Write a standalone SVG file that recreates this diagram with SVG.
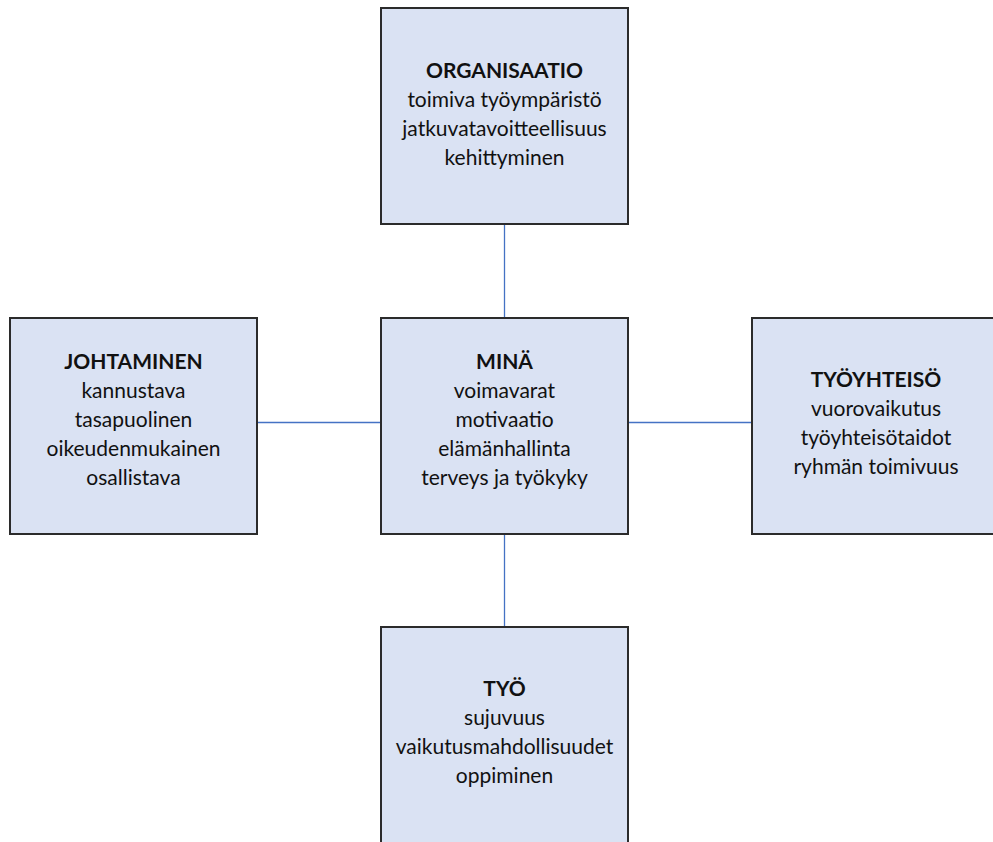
<svg xmlns="http://www.w3.org/2000/svg" width="993" height="842" viewBox="0 0 993 842">
<style>
.box{fill:#dae2f3;stroke:#2b2b2b;stroke-width:2}
.conn{stroke:#4472c4;stroke-width:1.3;fill:none}
text{font-family:Lato,"Open Sans","Liberation Sans",sans-serif;font-size:21px;fill:#111;text-anchor:middle}
.t{font-weight:bold}
</style>
<rect width="993" height="842" fill="#fff"/>
<g id="connectors">
<line class="conn" x1="504.5" y1="224" x2="504.5" y2="318"/>
<line class="conn" x1="504.5" y1="534" x2="504.5" y2="627"/>
<line class="conn" x1="257" y1="422.5" x2="381" y2="422.5"/>
<line class="conn" x1="628" y1="422.5" x2="752" y2="422.5"/>
</g>
<g id="organisaatio">
<rect class="box" x="381" y="8" width="247" height="216"/>
<text class="t" x="504.5" y="78">ORGANISAATIO</text>
<text x="504.5" y="107">toimiva työympäristö</text>
<text x="504.5" y="136">jatkuvatavoitteellisuus</text>
<text x="504.5" y="165">kehittyminen</text>
</g>
<g id="johtaminen">
<rect class="box" x="10" y="318" width="247" height="216"/>
<text class="t" x="133.5" y="369">JOHTAMINEN</text>
<text x="133.5" y="398">kannustava</text>
<text x="133.5" y="427">tasapuolinen</text>
<text x="133.5" y="456">oikeudenmukainen</text>
<text x="133.5" y="485">osallistava</text>
</g>
<g id="mina">
<rect class="box" x="381" y="318" width="247" height="216"/>
<text class="t" x="504.5" y="369">MINÄ</text>
<text x="504.5" y="398">voimavarat</text>
<text x="504.5" y="427">motivaatio</text>
<text x="504.5" y="456">elämänhallinta</text>
<text x="504.5" y="485">terveys ja työkyky</text>
</g>
<g id="tyoyhteiso">
<rect class="box" x="752" y="318" width="248" height="216"/>
<text class="t" x="876" y="387">TYÖYHTEISÖ</text>
<text x="876" y="416">vuorovaikutus</text>
<text x="876" y="445">työyhteisötaidot</text>
<text x="876" y="474">ryhmän toimivuus</text>
</g>
<g id="tyo">
<rect class="box" x="381" y="627" width="247" height="230"/>
<text class="t" x="504.5" y="696">TYÖ</text>
<text x="504.5" y="725">sujuvuus</text>
<text x="504.5" y="754">vaikutusmahdollisuudet</text>
<text x="504.5" y="783">oppiminen</text>
</g>
</svg>
